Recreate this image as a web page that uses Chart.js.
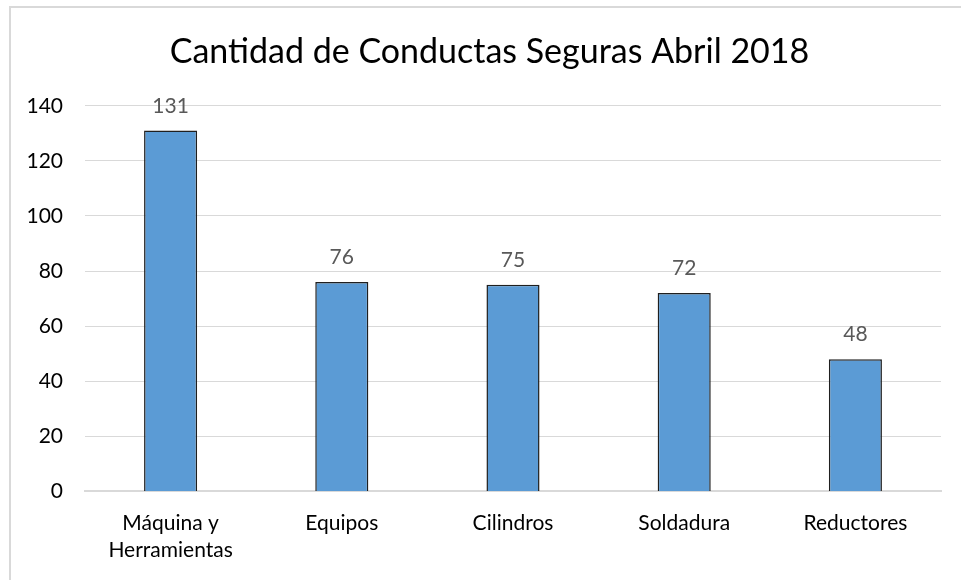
<!DOCTYPE html>
<html><head><meta charset="utf-8">
<script src="https://cdn.jsdelivr.net/npm/chart.js@4"></script>
<style>html,body{margin:0;padding:0;background:#fff;}#wrap{width:961px;height:580px;position:relative;}</style>
</head><body><div id="wrap"><canvas id="c" width="961" height="580"></canvas></div>
<script>
const categories = [["Máquina y","Herramientas"],"Equipos","Cilindros","Soldadura","Reductores"];
const values = [131, 76, 75, 72, 48];
const yTicks = [0, 20, 40, 60, 80, 100, 120, 140];
const titleText = "Cantidad de Conductas Seguras Abril 2018";

const FONT = "Lato, 'Open Sans', sans-serif";

const frame = {
  id: 'frame',
  afterLayout(chart) {
    if (chart.titleBlock) { chart.titleBlock.left = 38; }
  },
  beforeDraw(chart) {
    const ctx = chart.ctx;
    ctx.save();
    ctx.fillStyle = '#fff';
    ctx.fillRect(0,0,chart.width,chart.height);
    ctx.strokeStyle = '#d9d9d9';
    ctx.lineWidth = 2;
    ctx.beginPath();
    ctx.moveTo(10, 585);
    ctx.lineTo(10, 7);
    ctx.lineTo(965, 7);
    ctx.stroke();
    ctx.restore();
  }
};
const labels = {
  id: 'labels',
  afterDatasetsDraw(chart) {
    const ctx = chart.ctx;
    const meta = chart.getDatasetMeta(0);
    ctx.save();
    ctx.font = "21px " + FONT;
    ctx.fillStyle = '#595959';
    ctx.textAlign = 'center';
    ctx.textBaseline = 'alphabetic';
    meta.data.forEach((bar, i) => {
      ctx.fillText(String(values[i]), bar.x, bar.y - 18);
    });
    ctx.restore();
  }
};

new Chart(document.getElementById('c'), {
  type: 'bar',
  data: {
    labels: categories,
    datasets: [{
      data: values,
      backgroundColor: '#5b9bd5',
      borderColor: '#1f1f1f',
      borderWidth: 1.5,
      borderSkipped: 'bottom',
      barPercentage: 0.31,
      categoryPercentage: 1.0
    }]
  },
  options: {
    responsive: false,
    animation: false,
    devicePixelRatio: 1,
    layout: { padding: { left: 0, right: 20, top: 20, bottom: 6 } },
    plugins: {
      legend: { display: false },
      tooltip: { enabled: false },
      title: {
        display: true,
        text: titleText,
        color: '#000',
        font: { family: FONT, size: 34, weight: 'normal' },
        padding: { top: 12, bottom: 33 }
      }
    },
    scales: {
      x: {
        grid: { display: false },
        border: { color: '#d9d9d9', width: 2 },
        ticks: { color: '#000', font: { family: FONT, size: 21, lineHeight: 1.3 }, padding: 10, maxRotation: 0, autoSkip: false }
      },
      y: {
        min: 0, max: 140,
        afterBuildTicks(scale) { scale.ticks = yTicks.map(v => ({ value: v })); },
        afterFit(scale) { scale.width = 85; },
        grid: { color: '#d9d9d9', lineWidth: 1, drawTicks: false },
        border: { display: false },
        ticks: { color: '#000', font: { family: FONT, size: 21 }, padding: 22 }
      }
    }
  },
  plugins: [frame, labels]
});
</script></body></html>
